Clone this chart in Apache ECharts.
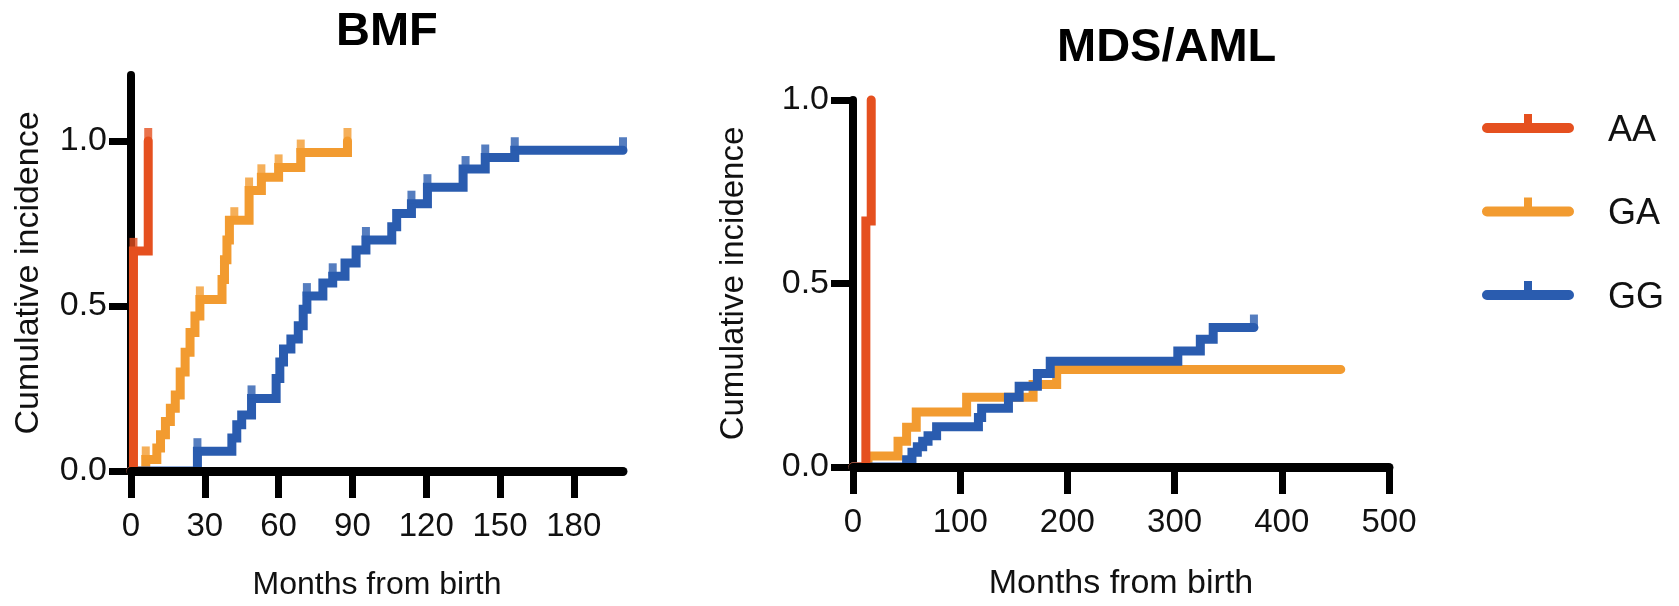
<!DOCTYPE html>
<html>
<head>
<meta charset="utf-8">
<script src="https://cdn.jsdelivr.net/npm/echarts@6/dist/echarts.min.js"></script>
<style>
  html, body { margin: 0; padding: 0; background: #fff; }
  #chart { width: 1679px; height: 606px; }
</style>
</head>
<body>
<div id="chart"></div>
<script>
// ---------- data (months from birth, cumulative incidence) ----------
const groups = ['AA', 'GA', 'GG'];
const colors = { AA: '#E5501F', GA: '#F29B30', GG: '#2A5CAF' };

// BMF panel
const bmfXTicks = [0, 30, 60, 90, 120, 150, 180];
const bmfYTicks = [0, 0.5, 1.0];
const bmfAA_t = [0, 1, 7];
const bmfAA_y = [0, 0.667, 1.0];
const bmfAA_censT = [1, 7];
const bmfAA_censY = [0.667, 1.0];

const bmfGA_t = [0, 6, 10.5, 12, 14, 16, 18, 20, 22, 24, 26, 28, 37, 38, 39, 40, 48, 53, 60, 69, 88];
const bmfGA_y = [0, 0.035, 0.07, 0.11, 0.15, 0.19, 0.23, 0.30, 0.36, 0.42, 0.47, 0.52, 0.58, 0.64, 0.70, 0.76, 0.85, 0.89, 0.92, 0.965, 1.0];
const bmfGA_censT = [6, 28, 42, 48, 53, 60, 69, 88];
const bmfGA_censY = [0.035, 0.52, 0.76, 0.85, 0.89, 0.92, 0.965, 1.0];

const bmfGG_t = [0, 27, 41, 43, 45, 49, 59, 60.5, 62, 65, 68, 70, 71.5, 78, 82, 87, 91.5, 95.5, 106, 108, 114, 120.5, 135, 144, 156, 200];
const bmfGG_y = [0, 0.06, 0.10, 0.14, 0.17, 0.22, 0.28, 0.33, 0.37, 0.40, 0.44, 0.49, 0.53, 0.57, 0.59, 0.63, 0.67, 0.70, 0.74, 0.78, 0.81, 0.86, 0.915, 0.95, 0.972, 0.972];
const bmfGG_censT = [27, 49, 71.5, 82, 95.5, 114, 120.5, 136, 144, 156, 200];
const bmfGG_censY = [0.06, 0.22, 0.53, 0.59, 0.70, 0.81, 0.86, 0.915, 0.95, 0.972, 0.972];

// MDS/AML panel
const mdsXTicks = [0, 100, 200, 300, 400, 500];
const mdsYTicks = [0, 0.5, 1.0];
const mdsAA_t = [0, 12, 17];
const mdsAA_y = [0, 0.67, 1.0];
const mdsAA_censT = [];
const mdsAA_censY = [];

const mdsGA_t = [0, 14, 42, 50, 59, 106, 168, 190, 455];
const mdsGA_y = [0, 0.03, 0.07, 0.108, 0.15, 0.19, 0.225, 0.266, 0.266];
const mdsGA_censT = [];
const mdsGA_censY = [];

const mdsGG_t = [0, 50, 55, 60, 65, 70, 78, 117, 120, 145, 155, 172, 184, 303, 324, 336, 374];
const mdsGG_y = [0, 0.02, 0.04, 0.055, 0.07, 0.085, 0.11, 0.135, 0.16, 0.19, 0.22, 0.255, 0.288, 0.316, 0.348, 0.38, 0.38];
const mdsGG_censT = [374];
const mdsGG_censY = [0.38];

// ---------- build ----------
const FONT = '"Liberation Sans", Arial, Helvetica, sans-serif';
const pairs = (t, y) => t.map((v, i) => [v, y[i]]);

const panels = [
  { AA: [bmfAA_t, bmfAA_y, bmfAA_censT, bmfAA_censY],
    GA: [bmfGA_t, bmfGA_y, bmfGA_censT, bmfGA_censY],
    GG: [bmfGG_t, bmfGG_y, bmfGG_censT, bmfGG_censY] },
  { AA: [mdsAA_t, mdsAA_y, mdsAA_censT, mdsAA_censY],
    GA: [mdsGA_t, mdsGA_y, mdsGA_censT, mdsGA_censY],
    GG: [mdsGG_t, mdsGG_y, mdsGG_censT, mdsGG_censY] }
];

const series = [];
const drawOrder = ['GA', 'GG', 'AA'];
panels.forEach((p, pi) => {
  drawOrder.forEach((g, gi) => {
    const [t, y, ct, cy] = p[g];
    series.push({
      name: g, type: 'line', step: 'end', xAxisIndex: pi, yAxisIndex: pi,
      data: pairs(t, y), symbol: 'none', clip: false, z: 3 + gi,
      itemStyle: { color: colors[g] },
      lineStyle: { color: colors[g], width: 9, cap: 'round', join: 'miter' },
      emphasis: { disabled: true }, animation: false
    });
    if (ct.length) {
      series.push({
        name: g + ' censored', type: 'scatter', xAxisIndex: pi, yAxisIndex: pi,
        data: pairs(ct, cy), symbol: 'rect', symbolSize: [8, 13], symbolOffset: [0, -6.5],
        itemStyle: { color: colors[g] }, z: 3 + gi, silent: true, clip: false,
        animation: false
      });
    }
  });
});

function xAxisCfg(gi, max, interval, ticks, nameGap, nameSize) {
  return {
    type: 'value', gridIndex: gi, min: 0, max: max, interval: interval, z: 10,
    name: 'Months from birth', nameLocation: 'middle', nameGap: nameGap,
    nameTextStyle: { fontFamily: FONT, fontSize: nameSize, color: '#111' },
    axisLine: { show: true, onZero: false, lineStyle: { color: '#000', width: 9 } },
    axisTick: { show: true, length: 27, customValues: ticks, lineStyle: { color: '#000', width: 7 } },
    axisLabel: { customValues: ticks, fontFamily: FONT, fontSize: 33, color: '#111', margin: 39 },
    splitLine: { show: false }
  };
}
function yAxisCfg(gi, max, ticks, nameGap, nameSize) {
  return {
    type: 'value', gridIndex: gi, min: 0, max: max, interval: 0.5, z: 1,
    name: 'Cumulative incidence', nameLocation: 'middle', nameGap: nameGap,
    nameTextStyle: { fontFamily: FONT, fontSize: nameSize, color: '#111' },
    axisLine: { show: true, onZero: false, lineStyle: { color: '#000', width: 8 } },
    axisTick: { show: true, length: 22, customValues: ticks, lineStyle: { color: '#000', width: 7 } },
    axisLabel: { customValues: ticks, fontFamily: FONT, fontSize: 34, color: '#111', margin: 24,
                 formatter: v => v.toFixed(1) },
    splitLine: { show: false }
  };
}

const LEGEND_ICON = 'path://M5,9 L87,9 A5,5 0 0 1 87,19 L5,19 A5,5 0 0 1 5,9 Z M42,0 L50,0 L50,10 L42,10 Z M0,34 L0.01,34 L0,34 Z';

const option = {
  backgroundColor: '#fff',
  animation: false,
  title: [
    { text: 'BMF', left: 336, top: 9, padding: 0,
      textStyle: { fontFamily: FONT, fontSize: 47, fontWeight: 'bold', color: '#000' } },
    { text: 'MDS/AML', left: 1057, top: 25, padding: 0,
      textStyle: { fontFamily: FONT, fontSize: 47, fontWeight: 'bold', color: '#000' } }
  ],
  legend: {
    orient: 'vertical', left: 1482, top: 113, padding: 0,
    itemWidth: 92, itemHeight: 34, itemGap: 47.5,
    data: groups, selectedMode: false,
    icon: LEGEND_ICON,
    itemStyle: { borderWidth: 0 },
    textStyle: { fontFamily: FONT, fontSize: 36, lineHeight: 34, color: '#111', padding: [0, 0, 0, 29] }
  },
  grid: [
    { left: 131, top: 75, width: 492, height: 399 },
    { left: 853, top: 100, width: 536, height: 368 }
  ],
  xAxis: [
    xAxisCfg(0, 200, 30, bmfXTicks, 98, 32),
    xAxisCfg(1, 500, 100, mdsXTicks, 100, 34)
  ],
  yAxis: [
    yAxisCfg(0, 1.2, bmfYTicks, 85, 34),
    yAxisCfg(1, 1.0, mdsYTicks, 103, 33)
  ],
  series: series
};

const chart = echarts.init(document.getElementById('chart'), null, { renderer: 'canvas' });
chart.setOption(option);
</script>
</body>
</html>
